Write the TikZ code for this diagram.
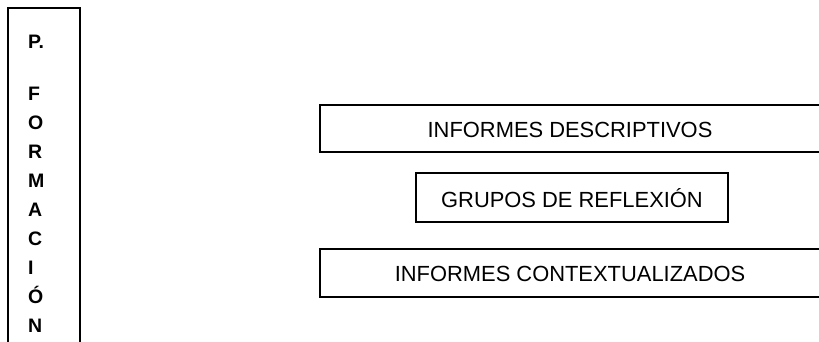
\documentclass[tikz,border=0pt]{standalone}
\usepackage{fontspec}
\setmainfont{Liberation Sans}
\tikzset{
  boxline/.style={draw=black, line width=1.3pt},
  rbox/.style={boxline, rectangle, inner sep=0pt, font=\fontsize{21.9}{25}\selectfont, text depth=0pt},
  vlabel/.style={font=\fontsize{19.5}{29}\bfseries\selectfont, align=left, inner sep=0pt, anchor=base west}
}
\begin{document}
\begin{tikzpicture}[x=1pt,y=-1pt]
\useasboundingbox (0,0) rectangle (819,342);
% left open frame
\coordinate (lb) at (8,345);
\coordinate (lt) at (8,8);
\coordinate (rt) at (80,8);
\coordinate (rb) at (80,345);
\draw[boxline] (lb) -- (lt) -- (rt) -- (rb);
\node[vlabel] (pf) at (28,332) {P.\\[23pt]F\\O\\R\\M\\A\\C\\I\\Ó\\N};
% right boxes
\node[rbox, minimum width=500pt, minimum height=47pt] (desc) at (570,128.5) {\raisebox{-3pt}{INFORMES DESCRIPTIVOS}};
\node[rbox, minimum width=312pt, minimum height=49pt] (grup) at (572,197.5) {\raisebox{-2pt}{GRUPOS DE REFLEXIÓN}};
\node[rbox, minimum width=500pt, minimum height=48pt] (ctx) at (570,273) {\raisebox{-1pt}{INFORMES CONTEXTUALIZADOS}};
\end{tikzpicture}
\end{document}
